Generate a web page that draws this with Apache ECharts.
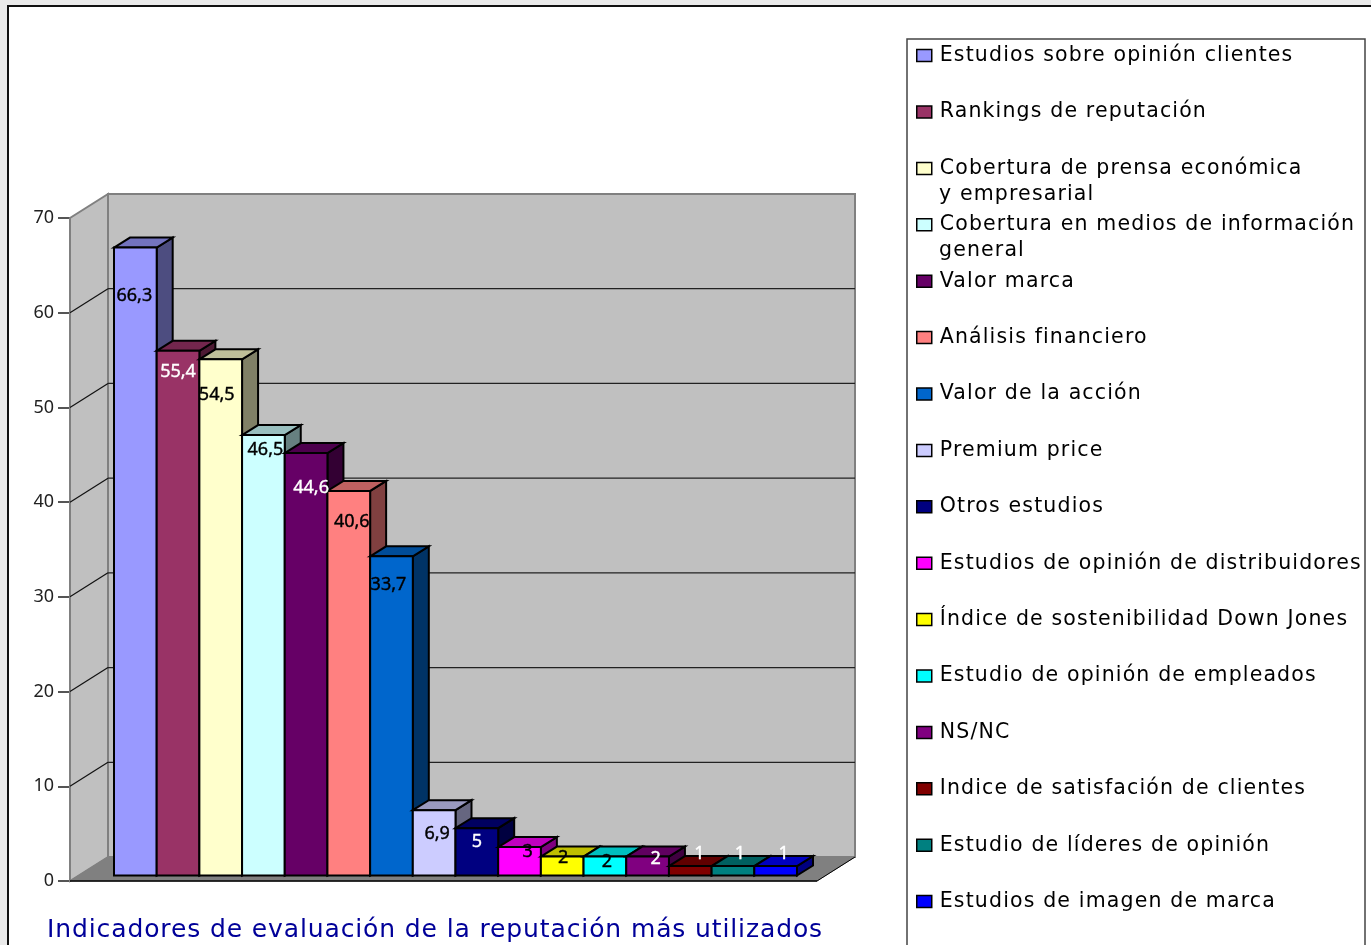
<!DOCTYPE html>
<html><head><meta charset="utf-8">
<style>html,body{margin:0;padding:0;background:#fff}#c{width:1371px;height:945px}</style>
<script src="https://cdn.jsdelivr.net/npm/echarts@6/dist/echarts.min.js"></script>
</head><body><div id="c"></div>
<script>
const categories = [
  "Estudios sobre opinión clientes","Rankings de reputación",
  "Cobertura de prensa económica\ny empresarial","Cobertura en medios de información\ngeneral",
  "Valor marca","Análisis financiero","Valor de la acción","Premium price","Otros estudios",
  "Estudios de opinión de distribuidores","Índice de sostenibilidad Down Jones",
  "Estudio de opinión de empleados","NS/NC","Indice de satisfación de clientes",
  "Estudio de líderes de opinión","Estudios de imagen de marca"];
const values = [66.3,55.4,54.5,46.5,44.6,40.6,33.7,6.9,5,3,2,2,2,1,1,1];
const colors = ["#9999FF","#993366","#FFFFCC","#CCFFFF","#660066","#FF8080","#0066CC","#CCCCFF",
  "#000080","#FF00FF","#FFFF00","#00FFFF","#800080","#800000","#008080","#0000FF"];
const valueTicks = [0,10,20,30,40,50,60,70];
const titleText = "Indicadores de evaluación de la reputación más utilizados";

// layout and style constants
const whiteLabels = [1,4,8,12,13,14,15];
const labelShift = [[-1,48],[0,21],[-4,36],[2,15],[5,35],[3,31],[-3,29],[3,24],[0,14],[8,5],[1,1],[2,5],[8,2],[9,-12],[7,-12],[8,-12]];
const wallDx=38, wallDy=24, wallLeftGap=44, wallRightGap=20;
const barDx=16, barDy=10, barLift=5.5;
const legendTop=53, legendPitch=56.4;

// the reference's legend and title type is widely tracked
const fontDesc=Object.getOwnPropertyDescriptor(CanvasRenderingContext2D.prototype,'font');
Object.defineProperty(CanvasRenderingContext2D.prototype,'font',{
  get(){return fontDesc.get.call(this);},
  set(v){
    fontDesc.set.call(this,v);
    this.letterSpacing=/DejaVu/.test(v)?(/25px/.test(v)?'0.88px':'1.15px'):'0px';
  }
});

function shade(hex,f){
  const n=parseInt(hex.slice(1),16);
  return 'rgb('+[(n>>16)&255,(n>>8)&255,n&255].map(c=>Math.round(c*f)).join(',')+')';
}
function poly(points,fill,stroke,lw,z2){
  return {type:'polygon',z2:z2||0,shape:{points},style:{fill:fill,stroke:stroke,lineWidth:lw,lineJoin:'miter'}};
}
function seg(x1,y1,x2,y2,stroke,lw,z2){
  return {type:'line',z2:z2||0,shape:{x1,y1,x2,y2},style:{stroke,lineWidth:lw}};
}
function renderWalls(params,api){
  const xL=api.coord([0,0])[0]-api.size([1,0])[0]/2-wallLeftGap;
  const xR=api.coord([categories.length-1,0])[0]+api.size([1,0])[0]/2+wallRightGap;
  const y0=api.coord([0,0])[1], yT=api.coord([0,70])[1];
  const ch=[];
  ch.push(poly([[xL,y0],[xL+wallDx,y0-wallDy],[xL+wallDx,yT-wallDy],[xL,yT]],'#C0C0C0','#808080',2));
  ch.push(poly([[xL+wallDx,y0-wallDy],[xR+wallDx,y0-wallDy],[xR+wallDx,yT-wallDy],[xL+wallDx,yT-wallDy]],'#C0C0C0','#808080',2));
  ch.push(poly([[xL,y0],[xL+wallDx,y0-wallDy],[xR+wallDx,y0-wallDy],[xR,y0]],'#808080','#808080',1));
  valueTicks.slice(1,-1).forEach(t=>{
    const y=api.coord([0,t])[1];
    ch.push(seg(xL,y,xL+wallDx,y-wallDy,'#111',1.2,1));
    ch.push(seg(xL+wallDx,y-wallDy,xR+wallDx,y-wallDy,'#222',1.2,1));
  });
  ch.push(seg(xL,y0,xR,y0,'#000',1.5,2));
  ch.push(seg(xR,y0,xR+wallDx,y0-wallDy,'#000',1,2));
  return {type:'group',children:ch};
}
function renderBar(i){
  return function(params,api){
    const w=api.size([1,0])[0];
    const p=api.coord([api.value(0),api.value(1)]);
    const b=api.coord([api.value(0),0]);
    const x0=p[0]-w/2,x1=p[0]+w/2,t=p[1]-barLift,bt=b[1]-barLift,c=colors[i];
    const s=labelShift[i];
    const lc=whiteLabels.includes(i)?'#fff':'#000';
    return {type:'group',children:[
      poly([[x1,bt],[x1+barDx,bt-barDy],[x1+barDx,t-barDy],[x1,t]],shade(c,.5),'#000',2,i*3+1),
      poly([[x0,t],[x0+barDx,t-barDy],[x1+barDx,t-barDy],[x1,t]],shade(c,.75),'#000',2,i*3+1),
      poly([[x0,bt],[x1,bt],[x1,t],[x0,t]],c,'#000',2,i*3+2),
      {type:'text',z2:200,style:{text:String(values[i]).replace('.',','),x:p[0]+s[0],y:t+s[1],
        align:'center',verticalAlign:'middle',fill:lc,stroke:lc,lineWidth:0.4,
        font:'18px "Noto Sans"'}}
    ]};
  };
}
const series=[{type:'custom',name:'walls',z:1,silent:true,renderItem:renderWalls,data:[[0,0]],encode:{x:0,y:1}}];
categories.forEach((n,i)=>series.push({type:'custom',name:n,z:2,silent:true,
  itemStyle:{color:colors[i]},renderItem:renderBar(i),data:[[i,values[i]]],encode:{x:0,y:1}}));

const legends=categories.map((n,i)=>({
  data:[n],left:916,top:legendTop+legendPitch*i-8.5,orient:'vertical',padding:0,selectedMode:false,
  icon:'rect',itemWidth:15,itemHeight:12,
  itemStyle:{borderColor:'#000',borderWidth:1.5},
  formatter:s=>s.split('\n')[0],
  textStyle:{fontFamily:'"DejaVu Sans"',fontSize:20.5,color:'#000',lineHeight:20,padding:[0,0,2,3]}
}));
const secondLines=[];
categories.forEach((n,i)=>{
  const parts=n.split('\n');
  if(parts[1]) secondLines.push({type:'text',z:5,style:{text:parts[1],x:939,y:legendTop+legendPitch*i+28.5,
    verticalAlign:'middle',fill:'#000',font:'20.5px "DejaVu Sans"'}});
});
const chart=echarts.init(document.getElementById('c'),null,{renderer:'canvas'});
chart.setOption({
  animation:false,backgroundColor:'#EAEAEA',
  title:{text:titleText,left:47,top:918,padding:0,
    textStyle:{fontFamily:'"DejaVu Sans"',fontSize:25,fontWeight:'normal',color:'#000099'}},
  grid:{left:114,width:683,top:218,bottom:64,containLabel:false},
  xAxis:{type:'category',data:categories,show:false},
  yAxis:{type:'value',min:0,max:70,interval:10,offset:44,
    axisLine:{show:true,lineStyle:{color:'#555',width:2}},
    axisTick:{show:true,length:12,lineStyle:{color:'#555',width:2}},
    axisLabel:{margin:16,fontFamily:'"Noto Sans"',fontSize:18,color:'#222'},
    splitLine:{show:false}},
  legend:legends,
  graphic:{elements:[
    {type:'rect',z:-10,shape:{x:8,y:6,width:1400,height:1000},style:{fill:'#fff',stroke:'#111',lineWidth:2}},
    {type:'rect',z:-9,shape:{x:907,y:39,width:458,height:950},style:{fill:'#fff',stroke:'#444',lineWidth:1.5}},
    ...secondLines
  ]},
  series
});
</script></body></html>
